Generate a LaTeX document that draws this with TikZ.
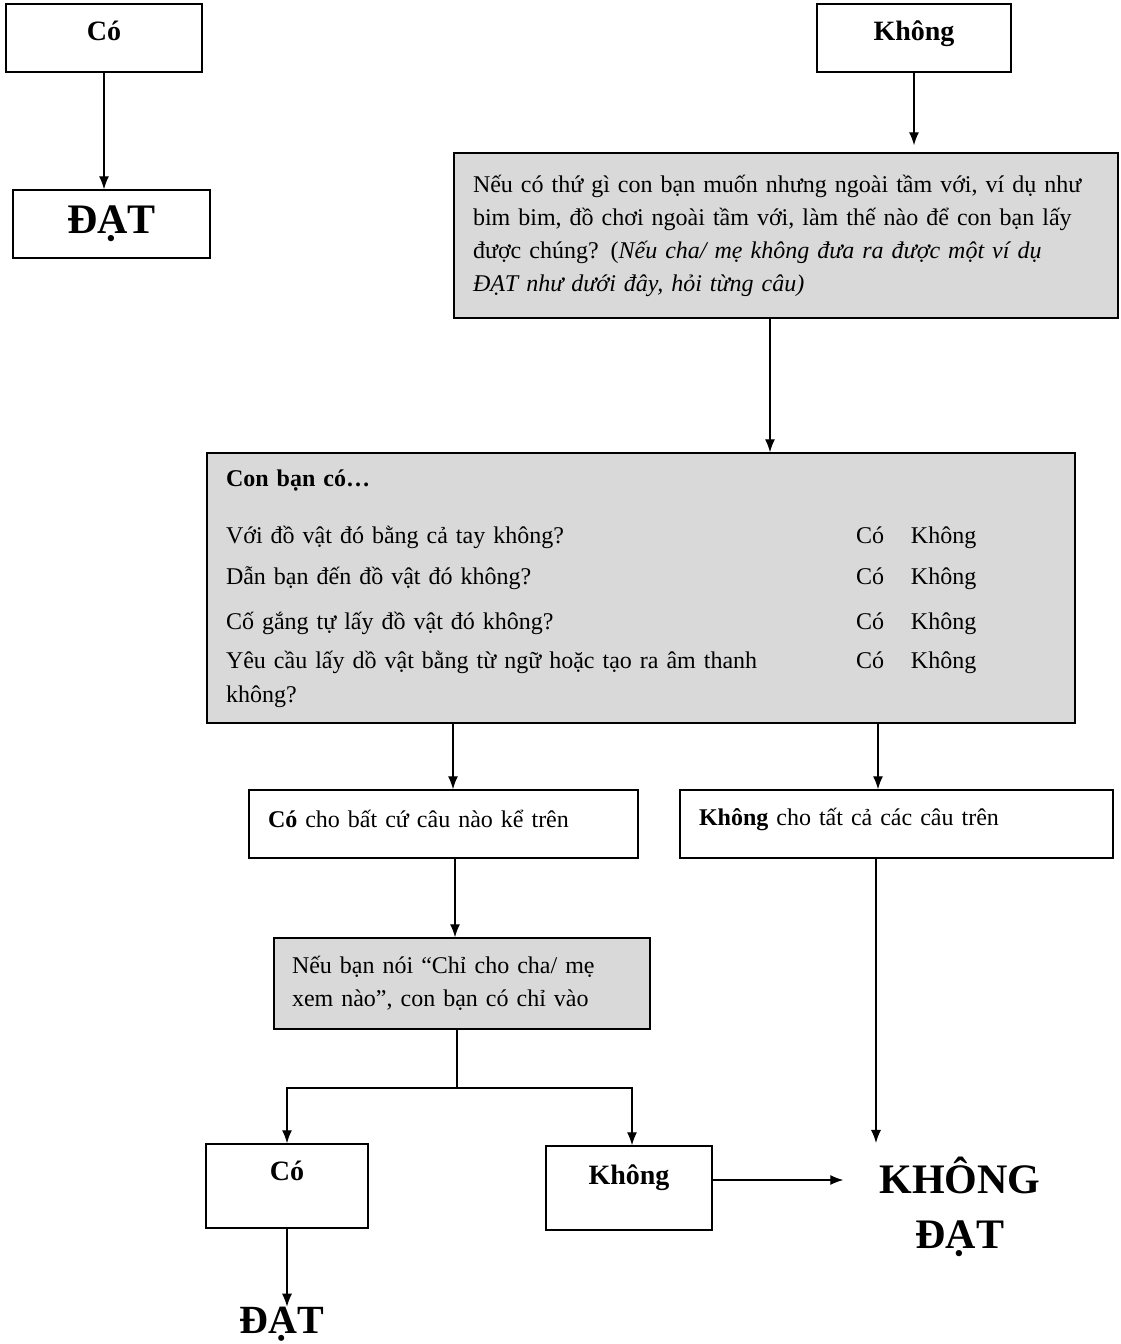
\documentclass[tikz,border=0pt]{standalone}
\usepackage{fontspec}
\setmainfont{Liberation Serif}
\usepackage{tikz}
\usetikzlibrary{calc,arrows.meta}
\newcommand{\qfont}{\fontsize{24}{33}\selectfont}
\newcommand{\lblfont}{\fontsize{28}{32}\selectfont\bfseries}
\newcommand{\resfont}{\fontsize{42}{55}\selectfont\bfseries}
\tikzset{
  box/.style={draw,line width=1.5pt,inner xsep=19pt,inner ysep=0pt,minimum height=68pt},
  greybox/.style={box,fill=gray!30,align=left,font=\qfont},
  lbl/.style={box,font=\lblfont,text height=19pt,text depth=#1},
  result/.style={font=\resfont,align=center,inner sep=0pt},
  arr/.style={->,line width=1.2pt},
}

\begin{document}
\begin{tikzpicture}[x=1pt,y=-1pt,>={Latex[length=13pt,width=10pt]}]
\useasboundingbox (0,0) rectangle (1120,1344);

% Left branch: Co -> DAT
\node[lbl=14.5pt,minimum width=196pt] (co1) at (104,38) {Có};
\node[box,font=\resfont,minimum width=197pt] (dat1) at (111.5,224) {ĐẠT};
\draw[arr] (co1.south) -- (co1.south |- dat1.north);

% Right branch: Khong -> question
\node[lbl=14.5pt,minimum width=194pt] (khong1) at (914,38) {Không};
\node[greybox,text width=626pt,minimum height=165pt] (q1) at (786,235.5)
  {Nếu có thứ gì con bạn muốn nhưng ngoài tầm với, ví dụ như\\
   bim bim, đồ chơi ngoài tầm với, làm thế nào để con bạn lấy\\
   được chúng? (\textit{Nếu cha/ mẹ không đưa ra được một ví dụ\\
   ĐẠT như dưới đây, hỏi từng câu)}};
\draw[arr,shorten >=7pt] (khong1.south) -- (khong1.south |- q1.north);

% Checklist
\node[greybox,text width=830pt,minimum height=270pt] (q2) at (641,588)
  {\begin{tabular}{@{}p{630pt}@{}p{55pt}@{}l@{}}
   \textbf{Con bạn có…} & & \\[24pt]
   Với đồ vật đó bằng cả tay không? & Có & Không\\[8pt]
   Dẫn bạn đến đồ vật đó không? & Có & Không\\[12pt]
   Cố gắng tự lấy đồ vật đó không? & Có & Không\\[6pt]
   Yêu cầu lấy dồ vật bằng từ ngữ hoặc tạo ra âm thanh & Có & Không\\[1pt]
   không? & &
   \end{tabular}};
\draw[arr] ([xshift=-16pt]q1.south) -- ([xshift=-16pt]q1.south |- q2.north);

% Answers to checklist
\node[box,font=\qfont,text width=351pt,align=left,text height=17pt,text depth=11pt] (coyes) at (443.5,824)
  {\textbf{Có} cho bất cứ câu nào kể trên};
\node[box,font=\qfont,text width=395pt,align=left,text height=17pt,text depth=15pt] (khongall) at (896.5,824)
  {\textbf{Không} cho tất cả các câu trên};
\draw[arr] ([xshift=9.5pt]coyes.north |- q2.south) -- ([xshift=9.5pt]coyes.north);
\draw[arr] ([xshift=-18.5pt]khongall.north |- q2.south) -- ([xshift=-18.5pt]khongall.north);

% Pointing question
\node[greybox,text width=340pt,minimum height=91pt,inner xsep=18pt] (q3) at (462,983.5)
  {Nếu bạn nói “Chỉ cho cha/ mẹ\\ xem nào”, con bạn có chỉ vào};
\draw[arr] ([xshift=-7pt]q3.north |- coyes.south) -- ([xshift=-7pt]q3.north);

% Last answers
\node[lbl=30.5pt,minimum width=162pt,minimum height=84pt,inner xsep=0pt] (co2) at (287,1186) {Có};
\node[lbl=26.5pt,minimum width=166pt,minimum height=84pt,inner xsep=0pt] (khong2) at (629,1188) {Không};
\coordinate (split) at (457,1088);
\draw[line width=1.2pt] ([xshift=-5pt]q3.south) -- (split);
\draw[arr] (split) -| (co2.north);
\draw[arr] (split) -| ([xshift=3pt]khong2.north);

% Results
\node[result] (khongdat) at (960,1207) {KHÔNG\\ĐẠT};
\node[result,font=\fontsize{40}{48}\selectfont\bfseries] (dat2) at (282,1324) {ĐẠT};
\draw[arr] (co2.south) -- (co2.south |- dat2.north);
\draw[arr,shorten >=36pt] ([yshift=8pt]khong2.east) -- ([yshift=8pt]khong2.east -| khongdat.west);
\draw[arr,shorten >=14pt] ([xshift=-20.5pt]khongall.south) -- ([xshift=-20.5pt]khongall.south |- khongdat.north);
\end{tikzpicture}
\end{document}
